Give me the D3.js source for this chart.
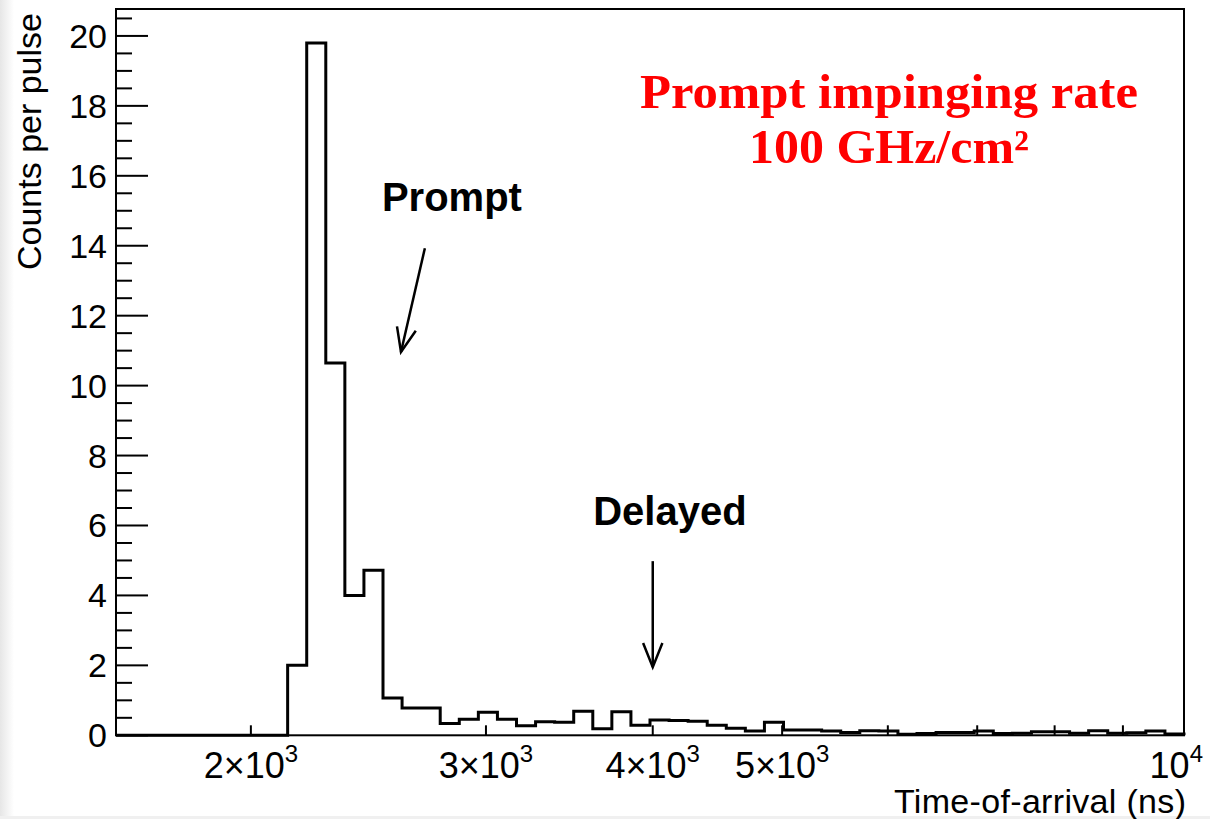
<!DOCTYPE html>
<html>
<head>
<meta charset="utf-8">
<script src="https://cdn.jsdelivr.net/npm/d3@7"></script>
<style>
  body { margin: 0; background: #fff; }
  svg { display: block; }
</style>
</head>
<body>
<svg id="chart" width="1210" height="819"></svg>
<script>
// histogram binning: log-spaced bins between 10^3.2 and 10^4 ns
var binLogMin = 3.2;
var binLogMax = 4.0;
var nBins = 56;

// counts per pulse in each bin
var counts = [
  0, 0, 0, 0, 0, 0, 0, 0, 0,
  2.0, 19.8, 10.65, 4.0, 4.72, 1.07, 0.78, 0.78, 0.34, 0.46,
  0.66, 0.46, 0.27, 0.39, 0.37, 0.69, 0.19, 0.67, 0.29, 0.44,
  0.42, 0.40, 0.29, 0.20, 0.12, 0.37, 0.15, 0.15, 0.12, 0.08,
  0.13, 0.12, 0.03, 0.05, 0.08, 0.08, 0.12, 0.05, 0.06, 0.10,
  0.10, 0.06, 0.13, 0.06, 0.07, 0.12, 0.04
];

// axis ticks
var yMax = 20.77;
var yMajorTicks = [0, 2, 4, 6, 8, 10, 12, 14, 16, 18, 20];
var xTicks = [2000, 3000, 4000, 5000, 6000, 7000, 8000, 9000, 10000];
var xTickLabels = [
  {v: 2000, m: "2\u00d710", e: "3"},
  {v: 3000, m: "3\u00d710", e: "3"},
  {v: 4000, m: "4\u00d710", e: "3"},
  {v: 5000, m: "5\u00d710", e: "3"},
  {v: 10000, m: "10", e: "4"}
];

// annotations (data coordinates)
var arrows = [
  {name: "Prompt", x0: 2700, y0: 13.93, x1: 2591, y1: 10.96, tx: 2829, ty: 15.0},
  {name: "Delayed", x0: 4000, y0: 4.98, x1: 4000, y1: 1.95, tx: 4120, ty: 6.0}
];
var redLines = ["Prompt impinging rate", "100 GHz/cm\u00b2"];

var svgWidth = 1210, svgHeight = 819;
var frame = {left: 116, right: 1184, top: 9, bottom: 735.3};

var svg = d3.select("#chart");

var x = d3.scaleLog()
          .domain([Math.pow(10, binLogMin), Math.pow(10, binLogMax)])
          .range([frame.left, frame.right]);
var y = d3.scaleLinear()
          .domain([0, yMax])
          .range([frame.bottom, frame.top]);

// faint slide shadow at the edges
var grad = svg.append("defs").append("linearGradient").attr("id", "edgeL");
grad.append("stop").attr("offset", "0%").attr("stop-color", "#e6e6e6");
grad.append("stop").attr("offset", "100%").attr("stop-color", "#ffffff");
svg.append("rect").attr("x", 0).attr("y", 0).attr("width", 14).attr("height", svgHeight).attr("fill", "url(#edgeL)");
svg.append("rect").attr("x", 0).attr("y", svgHeight - 3).attr("width", svgWidth).attr("height", 3).attr("fill", "#f0f0f0");

// build bins
var bins = counts.map(function(c, i) {
  return {
    lo: Math.pow(10, binLogMin + i * (binLogMax - binLogMin) / nBins),
    hi: Math.pow(10, binLogMin + (i + 1) * (binLogMax - binLogMin) / nBins),
    c: c
  };
});

// y axis: major ticks with labels, minor every 0.5
var yMinor = d3.range(0, yMax, 0.5);
svg.append("g").selectAll("line")
   .data(yMinor)
   .enter()
   .append("line")
   .attr("x1", frame.left)
   .attr("x2", function(d) { return frame.left + (d % 2 == 0 ? 32 : 16); })
   .attr("y1", function(d) { return y(d); })
   .attr("y2", function(d) { return y(d); })
   .attr("stroke", "#000")
   .attr("stroke-width", 2);

svg.append("g").selectAll("text")
   .data(yMajorTicks)
   .enter()
   .append("text")
   .attr("x", frame.left - 9)
   .attr("y", function(d) { return y(d) + 12; })
   .attr("text-anchor", "end")
   .attr("font-family", "Liberation Sans, Arial, sans-serif")
   .attr("font-size", 34)
   .text(function(d) { return d; });

// x axis ticks (log minor positions)
svg.append("g").selectAll("line")
   .data(xTicks)
   .enter()
   .append("line")
   .attr("x1", function(d) { return x(d); })
   .attr("x2", function(d) { return x(d); })
   .attr("y1", frame.bottom)
   .attr("y2", frame.bottom - 10)
   .attr("stroke", "#000")
   .attr("stroke-width", 2);

//last label is pushed inside the picture like ROOT does
var xl = svg.append("g").selectAll("text")
   .data(xTickLabels)
   .enter()
   .append("text")
   .attr("x", function(d) { return d.v == 10000 ? svgWidth - 7 : x(d.v); })
   .attr("y", 778)
   .attr("text-anchor", function(d) { return d.v == 10000 ? "end" : "middle"; })
   .attr("font-family", "Liberation Sans, Arial, sans-serif")
   .attr("font-size", 36);
xl.append("tspan").text(function(d) { return d.m; });
xl.append("tspan").attr("dy", -16).attr("font-size", 24).text(function(d) { return d.e; });

// histogram outline
var pts = [[x(bins[0].lo), y(0)]];
bins.forEach(function(b) {
  pts.push([x(b.lo), y(b.c)]);
  pts.push([x(b.hi), y(b.c)]);
});
pts.push([x(bins[bins.length - 1].hi), y(0)]);

svg.append("path")
   .attr("d", d3.line()(pts))
   .attr("fill", "none")
   .attr("stroke", "#000")
   .attr("stroke-width", 3)
   .attr("stroke-linejoin", "miter");

// frame
svg.append("rect")
   .attr("x", frame.left)
   .attr("y", frame.top)
   .attr("width", frame.right - frame.left)
   .attr("height", frame.bottom - frame.top)
   .attr("fill", "none")
   .attr("stroke", "#000")
   .attr("stroke-width", 2);

// axis titles
svg.append("text")
   .attr("x", frame.right + 2)
   .attr("y", 813)
   .attr("text-anchor", "end")
   .attr("font-family", "Liberation Sans, Arial, sans-serif")
   .attr("font-size", 34)
   .attr("textLength", 292)
   .text("Time-of-arrival (ns)");

svg.append("text")
   .attr("transform", "translate(41," + 13 + ") rotate(-90)")
   .attr("text-anchor", "end")
   .attr("font-family", "Liberation Sans, Arial, sans-serif")
   .attr("font-size", 34)
   .text("Counts per pulse");

// arrows with open heads
arrows.forEach(function(a) {
  var ax0 = x(a.x0), ay0 = y(a.y0), ax1 = x(a.x1), ay1 = y(a.y1);
  var ang = Math.atan2(ay1 - ay0, ax1 - ax0);
  var len = 26, spread = 0.38;
  var g = svg.append("g").attr("stroke", "#000").attr("stroke-width", 2.5).attr("fill", "none");
  g.append("line").attr("x1", ax0).attr("y1", ay0).attr("x2", ax1).attr("y2", ay1);
  g.append("path")
   .attr("d", d3.line()([
     [ax1 - len * Math.cos(ang - spread), ay1 - len * Math.sin(ang - spread)],
     [ax1, ay1],
     [ax1 - len * Math.cos(ang + spread), ay1 - len * Math.sin(ang + spread)]
   ]));
  svg.append("text")
     .attr("x", x(a.tx))
     .attr("y", y(a.ty))
     .attr("text-anchor", "middle")
     .attr("font-family", "Liberation Sans, Arial, sans-serif")
     .attr("font-weight", "bold")
     .attr("font-size", 40)
     .text(a.name);
});

// red annotation
svg.append("g").selectAll("text")
   .data(redLines)
   .enter()
   .append("text")
   .attr("x", 889)
   .attr("y", function(d, i) { return 108 + i * 55; })
   .attr("text-anchor", "middle")
   .attr("font-family", "Liberation Serif, 'DejaVu Serif', serif")
   .attr("font-weight", "bold")
   .attr("font-size", 48)
   .attr("fill", "#ff0000")
   .attr("textLength", function(d, i) { return i == 0 ? 498 : 280; })
   .attr("lengthAdjust", "spacingAndGlyphs")
   .text(function(d) { return d; });
</script>
</body>
</html>
